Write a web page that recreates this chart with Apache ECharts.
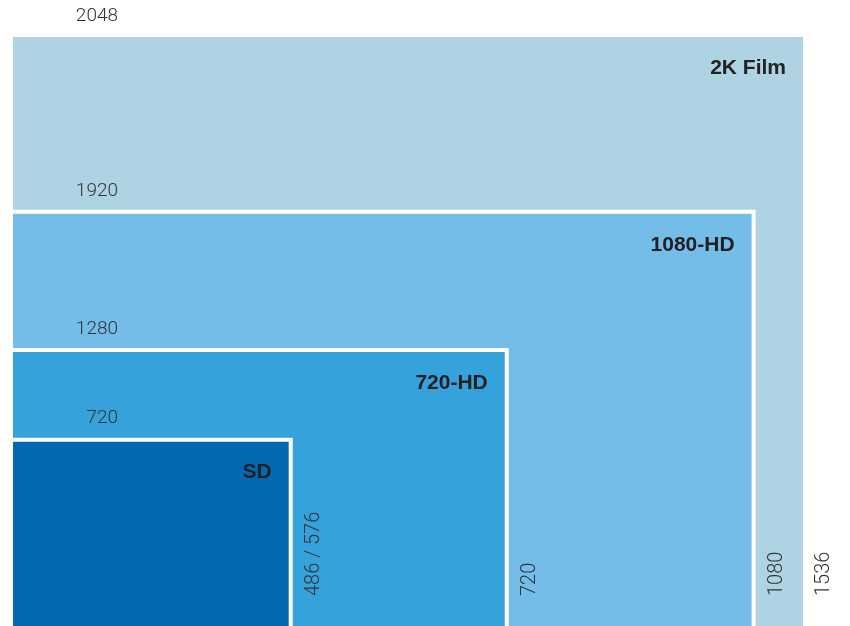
<!DOCTYPE html>
<html>
<head>
<meta charset="utf-8">
<script src="https://cdn.jsdelivr.net/npm/echarts@6/dist/echarts.min.js"></script>
<style>html,body{margin:0;padding:0;background:#fff}#c{width:850px;height:626px}</style>
</head>
<body>
<div id="c"></div>
<script>
// Formats, drawn largest first
const names = ['2K Film', '1080-HD', '720-HD', 'SD'];
const widths = [2048, 1920, 1280, 720];
const heights = [1536, 1080, 720, 486];
const widthLabels = ['2048', '1920', '1280', '720'];
const heightLabels = ['1536', '1080', '720', '486 / 576'];
const colors = ['#aed4e4', '#74bde8', '#36a2db', '#0469b3'];

const data = names.map((n, i) => [widths[i], heights[i], i]);

const chart = echarts.init(document.getElementById('c'));
const dimFont = '300 19px Roboto, "Liberation Sans", sans-serif';
const rotFont = '300 20px Roboto, "Liberation Sans", sans-serif';
const nameFont = 'bold 21px "Liberation Sans", Arial, sans-serif';

chart.setOption({
  animation: false,
  grid: { left: 13, right: 47, top: 37, bottom: 0 },
  xAxis: { type: 'value', min: 0, max: 2048, show: false },
  yAxis: { type: 'value', min: 0, max: 1536, show: false },
  series: [{
    type: 'custom',
    data: data,
    renderItem: function (params, api) {
      const w = api.value(0), h = api.value(1), i = api.value(2);
      const p0 = api.coord([0, 0]);
      const p1 = api.coord([w, h]);
      const left = p0[0], bottom = p0[1] + 2, right = p1[0], top = p1[1];
      const b = i === 0 ? 0 : 2;
      const children = [];
      if (i > 0) {
        children.push({
          type: 'rect',
          shape: { x: left, y: top - b, width: right + b - left, height: bottom - top + b },
          style: { fill: '#ffffff' }
        });
      }
      const fr = right - b, ft = top + b;
      children.push({
        type: 'rect',
        shape: { x: left, y: ft, width: fr - left, height: bottom - ft },
        style: { fill: colors[i] }
      });
      children.push({
        type: 'text',
        x: left + 105, y: top - 21,
        style: { text: widthLabels[i], align: 'right', verticalAlign: 'middle', fill: '#333', font: dimFont }
      });
      children.push({
        type: 'text',
        x: fr - 17, y: ft + 31,
        style: { text: names[i], align: 'right', verticalAlign: 'middle', fill: '#222', font: nameFont }
      });
      children.push({
        type: 'text',
        x: right + b + 21, y: p0[1] - 30,
        rotation: Math.PI / 2,
        style: { text: heightLabels[i], align: 'left', verticalAlign: 'middle', fill: '#333', font: rotFont }
      });
      return { type: 'group', children: children };
    }
  }]
});
</script>
</body>
</html>
